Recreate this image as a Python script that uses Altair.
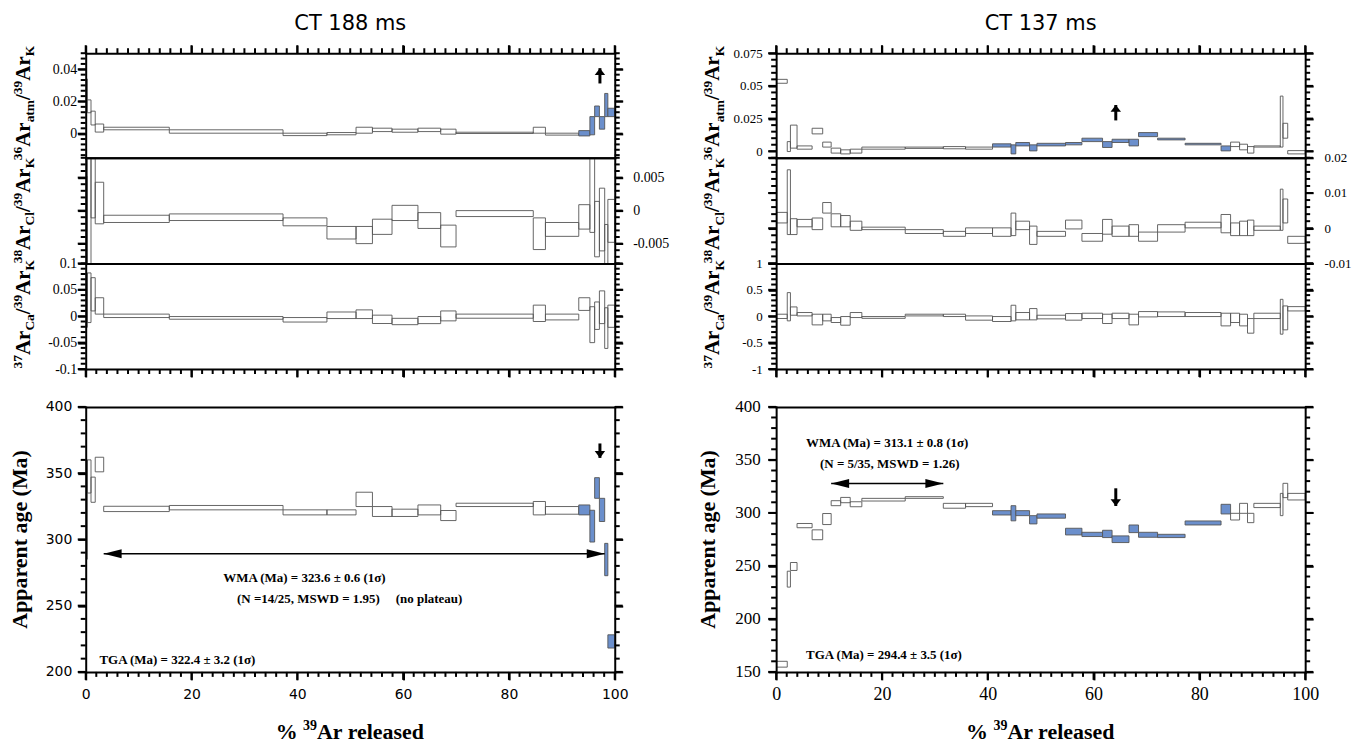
import math
import altair as alt
import pandas as pd

# ---------------- CT 188 ms (left) ----------------
L_bounds = [0, 0.3, 1.0, 1.8, 3.4, 15.8, 37.3, 45.6, 51.1, 54.2, 57.9, 62.8,
            67.1, 70.0, 84.6, 86.9, 93.2, 95.3, 96.2, 97.1, 98.1, 98.7, 100]
L_age_lo = [285, 335, 328, 351, 321, 322.3, 318.5, 318.5, 324.8, 317.3, 317.3, 318.5,
            314.2, 324.8, 318.5, 319, 318.5, 298, 331, 313.5, 272.6, 218]
L_age_hi = [360, 360, 347, 362, 325, 325.6, 322.3, 322.3, 335.6, 324.8, 322.8, 326,
            321.8, 327.3, 328.6, 324.8, 326, 322, 346.6, 331, 297, 228]
L_atm_lo = [0.021, 0.013, 0.0054, 0.001, 0.0024, 0.0003, -0.0012, -0.0007, 0.0003, 0.0013, 0.0009, 0.0013,
            -0.0003, 0.0001, 0.0003, -0.0009, -0.0014, -0.0007, 0.0106, 0.0028, 0.0106, 0.0106]
L_atm_hi = [0.034, 0.021, 0.014, 0.006, 0.004, 0.0024, 0.0003, 0.0007, 0.004, 0.0034, 0.0028, 0.0034,
            0.0028, 0.0009, 0.004, 0.0003, 0.0019, 0.0106, 0.0172, 0.0106, 0.025, 0.0158]
L_cl_lo = [-0.009, -0.009, -0.0011, -0.002, -0.0018, -0.0015, -0.0023, -0.0043, -0.005, -0.0036, -0.0015, -0.0027,
           -0.0055, -0.0009, -0.0059, -0.0039, -0.0028, -0.0033, -0.007, -0.0061, -0.009, -0.0048]
L_cl_hi = [0.0052, 0.009, 0.009, 0.0043, -0.0007, -0.0005, -0.0011, -0.0024, -0.0024, -0.0013, 0.0008, -0.0003,
           -0.0022, 0.0, -0.0011, -0.0018, 0.0009, 0.009, 0.0014, 0.0034, -0.0021, 0.0017]
L_ca_lo = [-0.021, -0.012, 0.010, 0.004, -0.0025, -0.0057, -0.011, -0.0044, -0.0044, -0.0138, -0.016, -0.014,
           -0.0088, -0.0038, -0.010, -0.007, 0.011, -0.050, -0.025, -0.014, -0.061, -0.021]
L_ca_hi = [0.082, 0.082, 0.073, 0.035, 0.004, -0.0006, -0.0025, 0.008, 0.012, 0.002, -0.004, -0.0006,
           0.010, 0.004, 0.021, 0.004, 0.035, 0.018, 0.027, 0.048, 0.016, 0.021]
L_blue = [0] * 16 + [1] * 6

# ---------------- CT 137 ms (right) ----------------
R_bounds = [0, 2.1, 2.7, 3.95, 6.8, 8.8, 10.4, 12.2, 14.0, 16.2, 24.4, 31.6, 35.8, 40.9, 44.4, 45.3,
            47.9, 49.3, 54.7, 57.8, 61.7, 63.5, 66.7, 68.5, 72.1, 77.3, 84.1, 85.9, 87.6, 89.1, 90.3,
            95.3, 95.8, 96.7, 100]
R_age_lo = [154.5, 230, 245.7, 286, 274.7, 289, 306.8, 309.6, 305.8, 311.2, 313.7, 304.4, 305.9, 298, 292.5,
            297.4, 289.6, 295, 279.2, 277.7, 276.7, 272, 281.4, 277, 276.7, 288.6, 299, 293.3, 299.6, 290.8,
            305, 297.4, 314.4, 312.2]
R_age_hi = [160, 245, 253.2, 290, 284, 299.4, 311.5, 314.6, 310.5, 313.7, 315.3, 309, 309, 302.1, 306.8,
            302.1, 297.4, 299, 285.5, 281.7, 283.6, 278.3, 288.6, 281.7, 279.8, 292.4, 308.1, 299.6, 309, 299.6,
            309, 318.4, 327.9, 318.4]
R_atm_lo = [0.052, -0.0002, 0.0024, 0.0016, 0.0133, 0.0032, -0.0014, -0.002, -0.0014, 0.0016, 0.0022, 0.0019,
            0.0016, 0.0032, -0.002, 0.0041, 0.0003, 0.0041, 0.0049, 0.0074, 0.0029, 0.0067, 0.0041, 0.0112,
            0.0087, 0.0049, 0.0003, 0.0036, 0.0011, -0.0014, 0.0032, 0.0032, 0.010, -0.002]
R_atm_hi = [0.055, 0.0074, 0.020, 0.0041, 0.0176, 0.007, 0.0024, 0.0011, 0.0016, 0.0032, 0.0032, 0.0036,
            0.0032, 0.0057, 0.0049, 0.0067, 0.0049, 0.0061, 0.0067, 0.010, 0.0074, 0.0092, 0.0092, 0.0143,
            0.0100, 0.0061, 0.0041, 0.007, 0.0054, 0.0036, 0.0041, 0.0422, 0.0214, 0.0005]
R_cl_lo = [0.0015, -0.0018, -0.0018, 0.0004, -0.0004, 0.0043, 0.0004, 0.0004, -0.0006, -0.0004, -0.0015, -0.0023,
           -0.0015, -0.0023, -0.0021, -0.0004, -0.0046, -0.0023, -0.0002, -0.0037, -0.0017, -0.0023, -0.0023,
           -0.0037, -0.0011, 0.0001, -0.0013, -0.0021, -0.0021, -0.0021, -0.0006, -0.0006, 0.0015, -0.0043]
R_cl_hi = [0.0045, 0.0166, 0.0027, 0.0025, 0.0029, 0.0073, 0.0041, 0.0036, 0.002, 0.0003, -0.0004, -0.0009,
           0.0001, 0.0001, 0.0043, 0.002, 0.0006, -0.0009, 0.0023, -0.0015, 0.0025, 0.0006, 0.001, -0.0011,
           0.001, 0.0017, 0.0039, 0.0015, 0.002, 0.0023, 0.0006, 0.0111, 0.0083, -0.0023]
R_ca_lo = [-0.043, -0.088, 0.019, 0.006, -0.164, -0.088, -0.119, -0.17, -0.025, -0.04, 0.006, -0.006, -0.075,
           -0.1, -0.088, -0.069, -0.069, -0.05, -0.075, -0.044, -0.138, -0.044, -0.164, -0.013, -0.006, -0.006,
           -0.183, -0.119, -0.183, -0.321, -0.044, -0.34, -0.258, 0.1]
R_ca_hi = [0.038, 0.447, 0.176, 0.07, 0.038, 0.038, -0.025, -0.006, 0.07, -0.006, 0.038, 0.038, 0.006,
           -0.006, 0.208, 0.07, 0.145, 0.019, 0.05, 0.057, 0.038, 0.057, 0.038, 0.088, 0.082, 0.07,
           0.057, 0.057, 0.038, -0.044, 0.057, 0.32, 0.195, 0.182]
R_blue = [0] * 13 + [1] * 14 + [0] * 7

# axis tick values / labels
X_MAJOR = [0, 20, 40, 60, 80, 100]
L_atm_major = [0, 0.02, 0.04]
L_cl_major = [-0.005, 0, 0.005]
L_ca_major = [-0.1, -0.05, 0, 0.05, 0.1]
L_age_major = [200, 250, 300, 350, 400]
R_atm_major = [0, 0.025, 0.05, 0.075]
R_cl_major = [-0.01, 0, 0.01, 0.02]
R_ca_major = [-1, -0.5, 0, 0.5, 1]
R_age_major = [150, 200, 250, 300, 350, 400]

BLUE = "#6b8fcc"
W = 531
ONE = pd.DataFrame({"o": [0]})
MAJ_LEN, MIN_LEN, TICK_W = 8, 5, 2


def table(b, blue, **cols):
    d = pd.DataFrame({"x0": b[:-1], "x1": b[1:], **cols})
    d["fb"] = [BLUE if f else "transparent" for f in blue]
    d["fn"] = "transparent"
    return d


dfL = table(L_bounds, L_blue, age_lo=L_age_lo, age_hi=L_age_hi, atm_lo=L_atm_lo, atm_hi=L_atm_hi,
            cl_lo=L_cl_lo, cl_hi=L_cl_hi, ca_lo=L_ca_lo, ca_hi=L_ca_hi)
dfR = table(R_bounds, R_blue, age_lo=R_age_lo, age_hi=R_age_hi, atm_lo=R_atm_lo, atm_hi=R_atm_hi,
            cl_lo=R_cl_lo, cl_hi=R_cl_hi, ca_lo=R_ca_lo, ca_hi=R_ca_hi)


def tick_vals(lo, hi, step):
    n0 = math.ceil(lo / step - 1e-6)
    n1 = math.floor(hi / step + 1e-6)
    return [round(n * step, 6) + 0.0 for n in range(n0, n1 + 1)]


class Side:
    """frame line + labels (axis) and tick lists (also drawn as rules through the scale)"""

    def __init__(self, orient, dom=None, minor=None, majors=(), labels=False, font="Liberation Serif",
                 size=14, pad=3, plain=False):
        self.orient = orient
        common = dict(orient=orient, title=None, grid=False, zindex=1, labelOverlap=False,
                      labelFlush=False, domain=True, domainColor="black", domainWidth=2,
                      domainCap="square")
        if plain:
            self.axis = alt.Axis(ticks=False, labels=False, **common)
            self.mj, self.mn = [], []
            return
        lo, hi = dom
        self.mj = [round(m, 6) + 0.0 for m in majors if lo - 1e-9 <= m <= hi + 1e-9]
        self.mn = [v for v in tick_vals(lo, hi, minor) if all(abs(v - m) > 1e-9 for m in self.mj)]
        kw = dict(values=self.mj, ticks=True, tickColor="black", tickWidth=TICK_W, tickSize=MAJ_LEN)
        if labels:
            expr = "".join(f"datum.value == {m!r} ? '{m:g}' : " for m in self.mj) + "''"
            kw.update(labels=True, labelExpr=expr, labelFont=font, labelFontSize=size,
                      labelColor="black", labelPadding=pad, labelBound=False)
        else:
            kw.update(labels=False)
        self.axis = alt.Axis(**common, **kw)

    def rules(self, xs, ys, h):
        out = []
        for vals, ln in [(self.mj, MAJ_LEN), (self.mn, MIN_LEN)]:
            if not vals:
                continue
            c = alt.Chart(pd.DataFrame({"tv": vals})).mark_rule(color="black", strokeWidth=TICK_W)
            if self.orient in ("left", "right"):
                a, b = (-ln, 0) if self.orient == "left" else (W, W + ln)
                out.append(c.encode(y=alt.Y("tv:Q", scale=ys, axis=None), x=alt.value(a), x2=alt.value(b)))
            else:
                a, b = (-ln, 0) if self.orient == "top" else (h, h + ln)
                out.append(c.encode(x=alt.X("tv:Q", scale=xs, axis=None), y=alt.value(a), y2=alt.value(b)))
        return out


TW = {"A": 722, "r": 444, "a": 500, "t": 333, "m": 833, "K": 778, "C": 722, "l": 278, "/": 278,
      " ": 250, "%": 1000, "e": 444, "s": 389, "d": 556}


def twidth(s, size):
    return sum(TW.get(c, 500) for c in s) * size / 1000.0


def text_piece(text, x, y, size, angle=0, align="left", font="Liberation Serif", weight="bold",
               baseline="alphabetic"):
    def f(xs, ys):
        return [alt.Chart(ONE).mark_text(text=text, angle=angle, align=align, baseline=baseline, font=font,
                                         fontWeight=weight, fontSize=size, color="black")
                .encode(x=alt.value(x), y=alt.value(y))]
    return f


def rot_title(pieces, cy, bx, big=21, small=13.5):
    total = sum(twidth(t, big if k == "n" else small) for t, k in pieces)
    y = cy + total / 2
    out = []
    for t, k in pieces:
        size = big if k == "n" else small
        x = bx + {"n": 0, "sup": -7.5, "sub": 4.5}[k]
        out.append(text_piece(t, x, y, size, angle=270))
        y -= twidth(t, size)
    return out


def h_title(pieces, cx, by, big=22, small=14):
    total = sum(twidth(t, big if k == "n" else small) for t, k in pieces)
    x = cx - total / 2
    out = []
    for t, k in pieces:
        size = big if k == "n" else small
        out.append(text_piece(t, x, by + (-8.5 if k == "sup" else 0), size))
        x += twidth(t, size)
    return out


def dtext(x, y, text, size=13, align="left"):
    def f(xs, ys):
        d = pd.DataFrame({"ax": [x], "ay": [y], "at": [text]})
        return [alt.Chart(d).mark_text(align=align, baseline="middle", font="Liberation Serif",
                                       fontWeight="bold", fontSize=size, color="black")
                .encode(x=alt.X("ax:Q", scale=xs, axis=None), y=alt.Y("ay:Q", scale=ys, axis=None),
                        text="at:N")]
    return f


def head(x, y, path, size):
    def f(xs, ys):
        d = pd.DataFrame({"hx": [x], "hy": [y]})
        return [alt.Chart(d).mark_point(shape=path, size=size, filled=True, color="black", opacity=1,
                                        strokeWidth=0)
                .encode(x=alt.X("hx:Q", scale=xs, axis=None), y=alt.Y("hy:Q", scale=ys, axis=None))]
    return f


def harrow(x1, x2, y):
    def f(xs, ys):
        d = pd.DataFrame({"ax": [x1], "ax2": [x2], "ay": [y]})
        return [alt.Chart(d).mark_rule(color="black", strokeWidth=1.6)
                .encode(x=alt.X("ax:Q", scale=xs, axis=None), x2="ax2:Q",
                        y=alt.Y("ay:Q", scale=ys, axis=None))]
    return [f, head(x1, y, "M0,0L2,-0.5L2,0.5Z", 324), head(x2, y, "M0,0L-2,-0.5L-2,0.5Z", 324)]


def varrow(x, y_tail, y_tip, up=True):
    def f(xs, ys):
        d = pd.DataFrame({"ax": [x], "ay": [y_tail], "ay2": [y_tip]})
        return [alt.Chart(d).mark_rule(color="black", strokeWidth=3)
                .encode(x=alt.X("ax:Q", scale=xs, axis=None), y=alt.Y("ay:Q", scale=ys, axis=None),
                        y2="ay2:Q")]
    path = "M0,0L-1,1.3L1,1.3Z" if up else "M0,0L-1,-1.3L1,-1.3Z"
    return [f, head(x, y_tip, path, 110)]


def panel(df, lo, hi, ydom, h, sides, fill_field, extras):
    xs = alt.Scale(domain=[0, 100], nice=False, zero=False)
    ys = alt.Scale(domain=ydom, nice=False, zero=False)
    base = alt.Chart(df)
    L, R, T, B = sides["l"], sides["r"], sides["t"], sides["b"]
    layers = [base.mark_rect(clip=True, stroke="#555555", strokeWidth=0.9).encode(
        x=alt.X("x0:Q", scale=xs, axis=B.axis), x2="x1:Q",
        y=alt.Y(f"{lo}:Q", scale=ys, axis=L.axis), y2=f"{hi}:Q",
        fill=alt.Fill(f"{fill_field}:N", scale=None)),
        base.mark_rect(opacity=0).encode(
            x=alt.X("x0:Q", scale=xs, axis=T.axis), x2="x1:Q",
            y=alt.Y(f"{lo}:Q", scale=ys, axis=R.axis), y2=f"{hi}:Q")]
    for s in (L, R, T, B):
        layers += s.rules(xs, ys, h)
    for f in extras:
        layers += f(xs, ys)
    return alt.layer(*layers).resolve_axis(x="independent", y="independent").properties(width=W, height=h)


def xside(orient, labels=False, font="DejaVu Sans", size=14, pad=8):
    return Side(orient, (0, 100), 2, X_MAJOR, labels=labels, font=font, size=size, pad=pad)


def plain(orient):
    return Side(orient, plain=True)


def spacer():
    return alt.Chart(ONE).mark_point(opacity=0).encode(
        x=alt.X("o:Q", axis=None), y=alt.Y("o:Q", axis=None)).properties(width=W, height=38)


ATM_T = [("36", "sup"), ("Ar", "n"), ("atm", "sub"), ("/", "n"), ("39", "sup"), ("Ar", "n"), ("K", "sub")]
CL_T = [("38", "sup"), ("Ar", "n"), ("Cl", "sub"), ("/", "n"), ("39", "sup"), ("Ar", "n"), ("K", "sub")]
CA_T = [("37", "sup"), ("Ar", "n"), ("Ca", "sub"), ("/", "n"), ("39", "sup"), ("Ar", "n"), ("K", "sub")]
X_T = [("% ", "n"), ("39", "sup"), ("Ar released", "n")]
XT_Y = 333

# ---------------- left column ----------------
LF = "Liberation Serif"
atmL = panel(dfL, "atm_lo", "atm_hi", [-0.015, 0.05], 105, dict(
    l=Side("left", (-0.015, 0.05), 0.02 / 6, L_atm_major, labels=True, size=14, pad=1),
    r=Side("right", (-0.015, 0.05), 0.02 / 6, L_atm_major),
    t=xside("top"), b=plain("bottom")), "fb",
    rot_title(ATM_T, 50, -56) + varrow(97.2, 0.0312, 0.0407, up=True) +
    [text_piece("CT 188 ms", 265.5, -23, 21, align="center", font="DejaVu Sans", weight="normal")])

clL = panel(dfL, "cl_lo", "cl_hi", [-0.008, 0.008], 106, dict(
    l=Side("left", (-0.008, 0.008), 0.001, L_cl_major),
    r=Side("right", (-0.008, 0.008), 0.001, L_cl_major, labels=True, size=14, pad=10),
    t=plain("top"), b=plain("bottom")), "fn",
    rot_title(CL_T, 53, -56))

caL = panel(dfL, "ca_lo", "ca_hi", [-0.1, 0.1], 106, dict(
    l=Side("left", (-0.1, 0.1), 0.01, L_ca_major, labels=True, size=14, pad=1),
    r=Side("right", (-0.1, 0.1), 0.01, L_ca_major),
    t=plain("top"), b=xside("bottom")), "fn",
    rot_title(CA_T, 51, -56))

ageL = panel(dfL, "age_lo", "age_hi", [200, 400], 266, dict(
    l=Side("left", (200, 400), 10, L_age_major, labels=True, font="DejaVu Sans", size=14, pad=6),
    r=Side("right", (200, 400), 10, L_age_major),
    t=plain("top"), b=xside("bottom", labels=True, font="DejaVu Sans", size=14, pad=8)), "fb",
    [text_piece("Apparent age (Ma)", -59, 133, 22, angle=270, align="center")] +
    harrow(3.4, 98.1, 289.2) + varrow(97.2, 372.4, 361.5, up=False) +
    [dtext(26.0, 271, "WMA (Ma) = 323.6 ± 0.6 (1σ)"),
     dtext(28.6, 255, "(N =14/25, MSWD = 1.95)"),
     dtext(58.6, 255, "(no plateau)"),
     dtext(2.6, 208.8, "TGA (Ma) = 322.4 ± 3.2 (1σ)")] +
    h_title(X_T, 265.5, XT_Y))

# ---------------- right column ----------------
atmR = panel(dfR, "atm_lo", "atm_hi", [-0.005, 0.075], 105, dict(
    l=Side("left", (-0.005, 0.075), 0.005, R_atm_major, labels=True, size=13, pad=6),
    r=Side("right", (-0.005, 0.075), 0.005, R_atm_major),
    t=xside("top"), b=plain("bottom")), "fb",
    rot_title(ATM_T, 50, -57) + varrow(64.2, 0.0236, 0.0354, up=True) +
    [text_piece("CT 137 ms", 265.5, -23, 21, align="center", font="DejaVu Sans", weight="normal")])

clR = panel(dfR, "cl_lo", "cl_hi", [-0.01, 0.02], 106, dict(
    l=Side("left", (-0.01, 0.02), 0.002, R_cl_major),
    r=Side("right", (-0.01, 0.02), 0.002, R_cl_major, labels=True, size=13, pad=11),
    t=plain("top"), b=plain("bottom")), "fn",
    rot_title(CL_T, 53, -57))

caR = panel(dfR, "ca_lo", "ca_hi", [-1, 1], 106, dict(
    l=Side("left", (-1, 1), 0.1, R_ca_major, labels=True, size=13, pad=6),
    r=Side("right", (-1, 1), 0.1, R_ca_major),
    t=plain("top"), b=xside("bottom")), "fn",
    rot_title(CA_T, 51, -57))

ageR = panel(dfR, "age_lo", "age_hi", [150, 400], 266, dict(
    l=Side("left", (150, 400), 10, R_age_major, labels=True, font=LF, size=17, pad=8),
    r=Side("right", (150, 400), 10, R_age_major),
    t=plain("top"), b=xside("bottom", labels=True, font=LF, size=18, pad=6)), "fb",
    [text_piece("Apparent age (Ma)", -61, 133, 22, angle=270, align="center")] +
    harrow(10.4, 31.6, 327.8) + varrow(64.2, 323.2, 306.5, up=False) +
    [dtext(5.65, 365.5, "WMA (Ma) = 313.1 ± 0.8 (1σ)"),
     dtext(8.3, 346, "(N = 5/35, MSWD = 1.26)"),
     dtext(5.65, 165.7, "TGA (Ma) = 294.4 ± 3.5 (1σ)")] +
    h_title(X_T, 265.5, XT_Y))

chart = alt.concat(atmL, atmR, clL, clR, caL, caR, spacer(), spacer(), ageL, ageR,
                   columns=2, spacing={"row": 0, "column": 162}, bounds="flush"
                   ).configure_view(stroke="transparent").properties(
    padding={"left": 0, "top": 3, "right": 0, "bottom": 0})

chart.save("out.html", embed_options={"renderer": "svg", "actions": False})
